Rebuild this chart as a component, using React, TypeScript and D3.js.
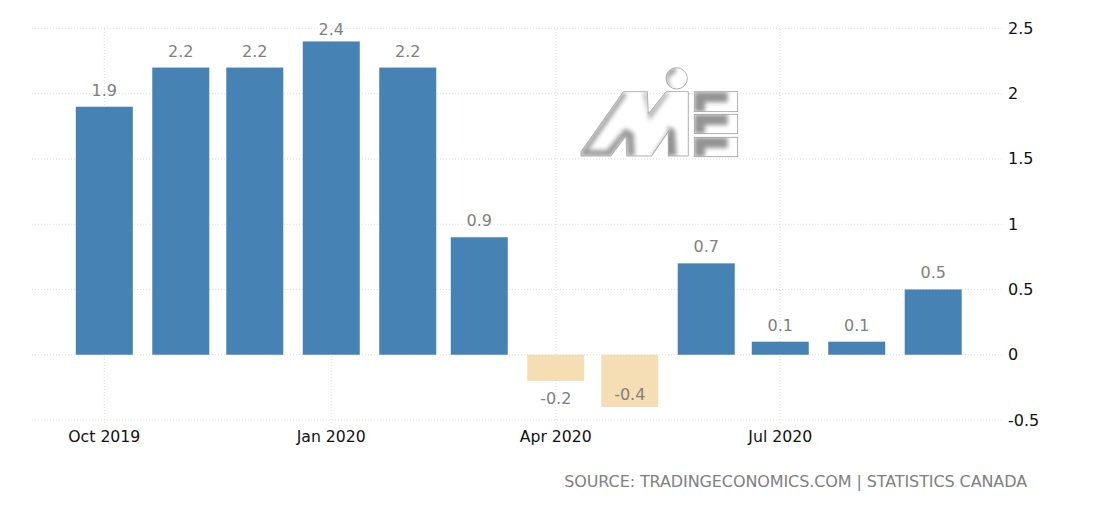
import React from "react";
import * as d3 from "d3";

const months = ["2019-10-01","2019-11-01","2019-12-01","2020-01-01","2020-02-01","2020-03-01","2020-04-01","2020-05-01","2020-06-01","2020-07-01","2020-08-01","2020-09-01"];
const values = [1.9,2.2,2.2,2.4,2.2,0.9,-0.2,-0.4,0.7,0.1,0.1,0.5];
const yTicks = [2.5,2,1.5,1,0.5,0,-0.5];
const xTicks = ["2019-10-01","2020-01-01","2020-04-01","2020-07-01"];
const xLabels = ["Oct 2019","Jan 2020","Apr 2020","Jul 2020"];
const source = "SOURCE: TRADINGECONOMICS.COM | STATISTICS CANADA";

const W = 1095, H = 510;
const FONT = "'DejaVu Sans', sans-serif";
const parse = (s: string) => new Date(s + "T00:00:00Z");
const x = d3.scaleUtc().domain([parse("2019-10-01"), parse("2020-09-01")]).range([104.3, 933.2]);
const y = d3.scaleLinear().domain([-0.5, 2.5]).range([420, 28.4]);
const BAR = 57;

const mShape = "M63,305 L190,125 L262,125 L265,192 L318,125 L385,125 L385,318 L325,318 L325,245 L275,318 L200,318 L198,258 L153,318 L63,318 Z";
const eBars = [[403,125,130,60],[403,193,130,58],[403,262,130,58]];

function Logo() {
  return (
    <g transform="translate(560,50) scale(0.3333)">
      <defs>
        <filter id="b1" x="-30%" y="-30%" width="160%" height="160%"><feGaussianBlur stdDeviation="7" /></filter>
        <filter id="b2" x="-30%" y="-30%" width="160%" height="160%"><feGaussianBlur stdDeviation="6" /></filter>
        <clipPath id="mClip"><path d={mShape} /></clipPath>
        <clipPath id="cClip"><circle cx={350} cy={85} r={32} /></clipPath>
        {eBars.map((r, i) => (
          <clipPath id={`eClip${i}`} key={i}><rect x={r[0]} y={r[1]} width={r[2]} height={r[3]} /></clipPath>
        ))}
      </defs>
      <path d={mShape} fill="#fff" />
      <g clipPath="url(#mClip)">
        <path d="M190,125 L63,305 L63,318 L153,318 L198,258 L200,318 L225,318 L222,250 L195,235 L140,300 L85,300 L200,135 Z" fill="#666" opacity={0.65} filter="url(#b2)" />
        <path d="M262,125 L265,192 L318,125 L328,130 L268,212 L250,130 Z" fill="#666" opacity={0.55} filter="url(#b2)" />
        <path d="M325,245 L275,318 L325,318 L350,318 L345,240 L322,228 Z" fill="#666" opacity={0.7} filter="url(#b2)" />
      </g>
      <path d={mShape} fill="none" stroke="#a0a0a0" strokeWidth={2.5} />
      <circle cx={350} cy={85} r={32} fill="#fff" />
      <g clipPath="url(#cClip)">
        <path d="M318,85 A32,32 0 0 1 350,53 L345,68 A25,25 0 0 0 345,117 L320,110 Z" fill="#666" opacity={0.75} filter="url(#b2)" />
      </g>
      <circle cx={350} cy={85} r={32} fill="none" stroke="#a0a0a0" strokeWidth={2.5} />
      {eBars.map((r, i) => (
        <g key={i}>
          <rect x={r[0]} y={r[1]} width={r[2]} height={r[3]} fill="#fff" />
          <g clipPath={`url(#eClip${i})`}>
            <path d={`M${r[0]},${r[1]} h${r[2] - 30} v32 h-${r[2] - 62} v${r[3] - 32} h-32 Z`} fill="#666" opacity={0.7} filter="url(#b1)" />
          </g>
          <rect x={r[0]} y={r[1]} width={r[2]} height={r[3]} fill="none" stroke="#a0a0a0" strokeWidth={2.5} />
        </g>
      ))}
    </g>
  );
}

export default function App() {
  return (
    <svg width={W} height={H} style={{ position: "absolute", left: 0, top: 0, background: "#fff" }} fontFamily={FONT}>
      {yTicks.map((t) => (
        <g key={t}>
          <line x1={32} x2={1004} y1={y(t)} y2={y(t)} stroke="#dcdcdc" strokeDasharray="1 2" />
          <text x={1008} y={y(t) + 5.5} fontSize={16} fill="#111">{t}</text>
        </g>
      ))}
      {xTicks.map((t, i) => (
        <g key={t}>
          <line x1={x(parse(t))} x2={x(parse(t))} y1={29} y2={425} stroke="#dcdcdc" strokeDasharray="1 2" />
          <text x={x(parse(t))} y={442} textAnchor="middle" fontSize={15.7} fill="#111">{xLabels[i]}</text>
        </g>
      ))}
      {months.map((m, i) => {
        const v = values[i];
        const cx = x(parse(m));
        const below = y(v) + 23;
        const labelY = v >= 0 ? Math.max(y(v) - 11, 35) : below > 410 ? y(v) - 7 : below;
        return (
          <g key={m}>
            <rect x={cx - BAR / 2} width={BAR} y={Math.min(y(v), y(0))} height={Math.abs(y(v) - y(0))} fill={v >= 0 ? "#4682b4" : "#f5deb3"} />
            <text x={cx} y={labelY} textAnchor="middle" fontSize={16} fill="#808080">{v}</text>
          </g>
        );
      })}
      <Logo />
      <text x={1027} y={487} textAnchor="end" fontSize={16} fill="#808080" letterSpacing={-0.1}>{source}</text>
    </svg>
  );
}
